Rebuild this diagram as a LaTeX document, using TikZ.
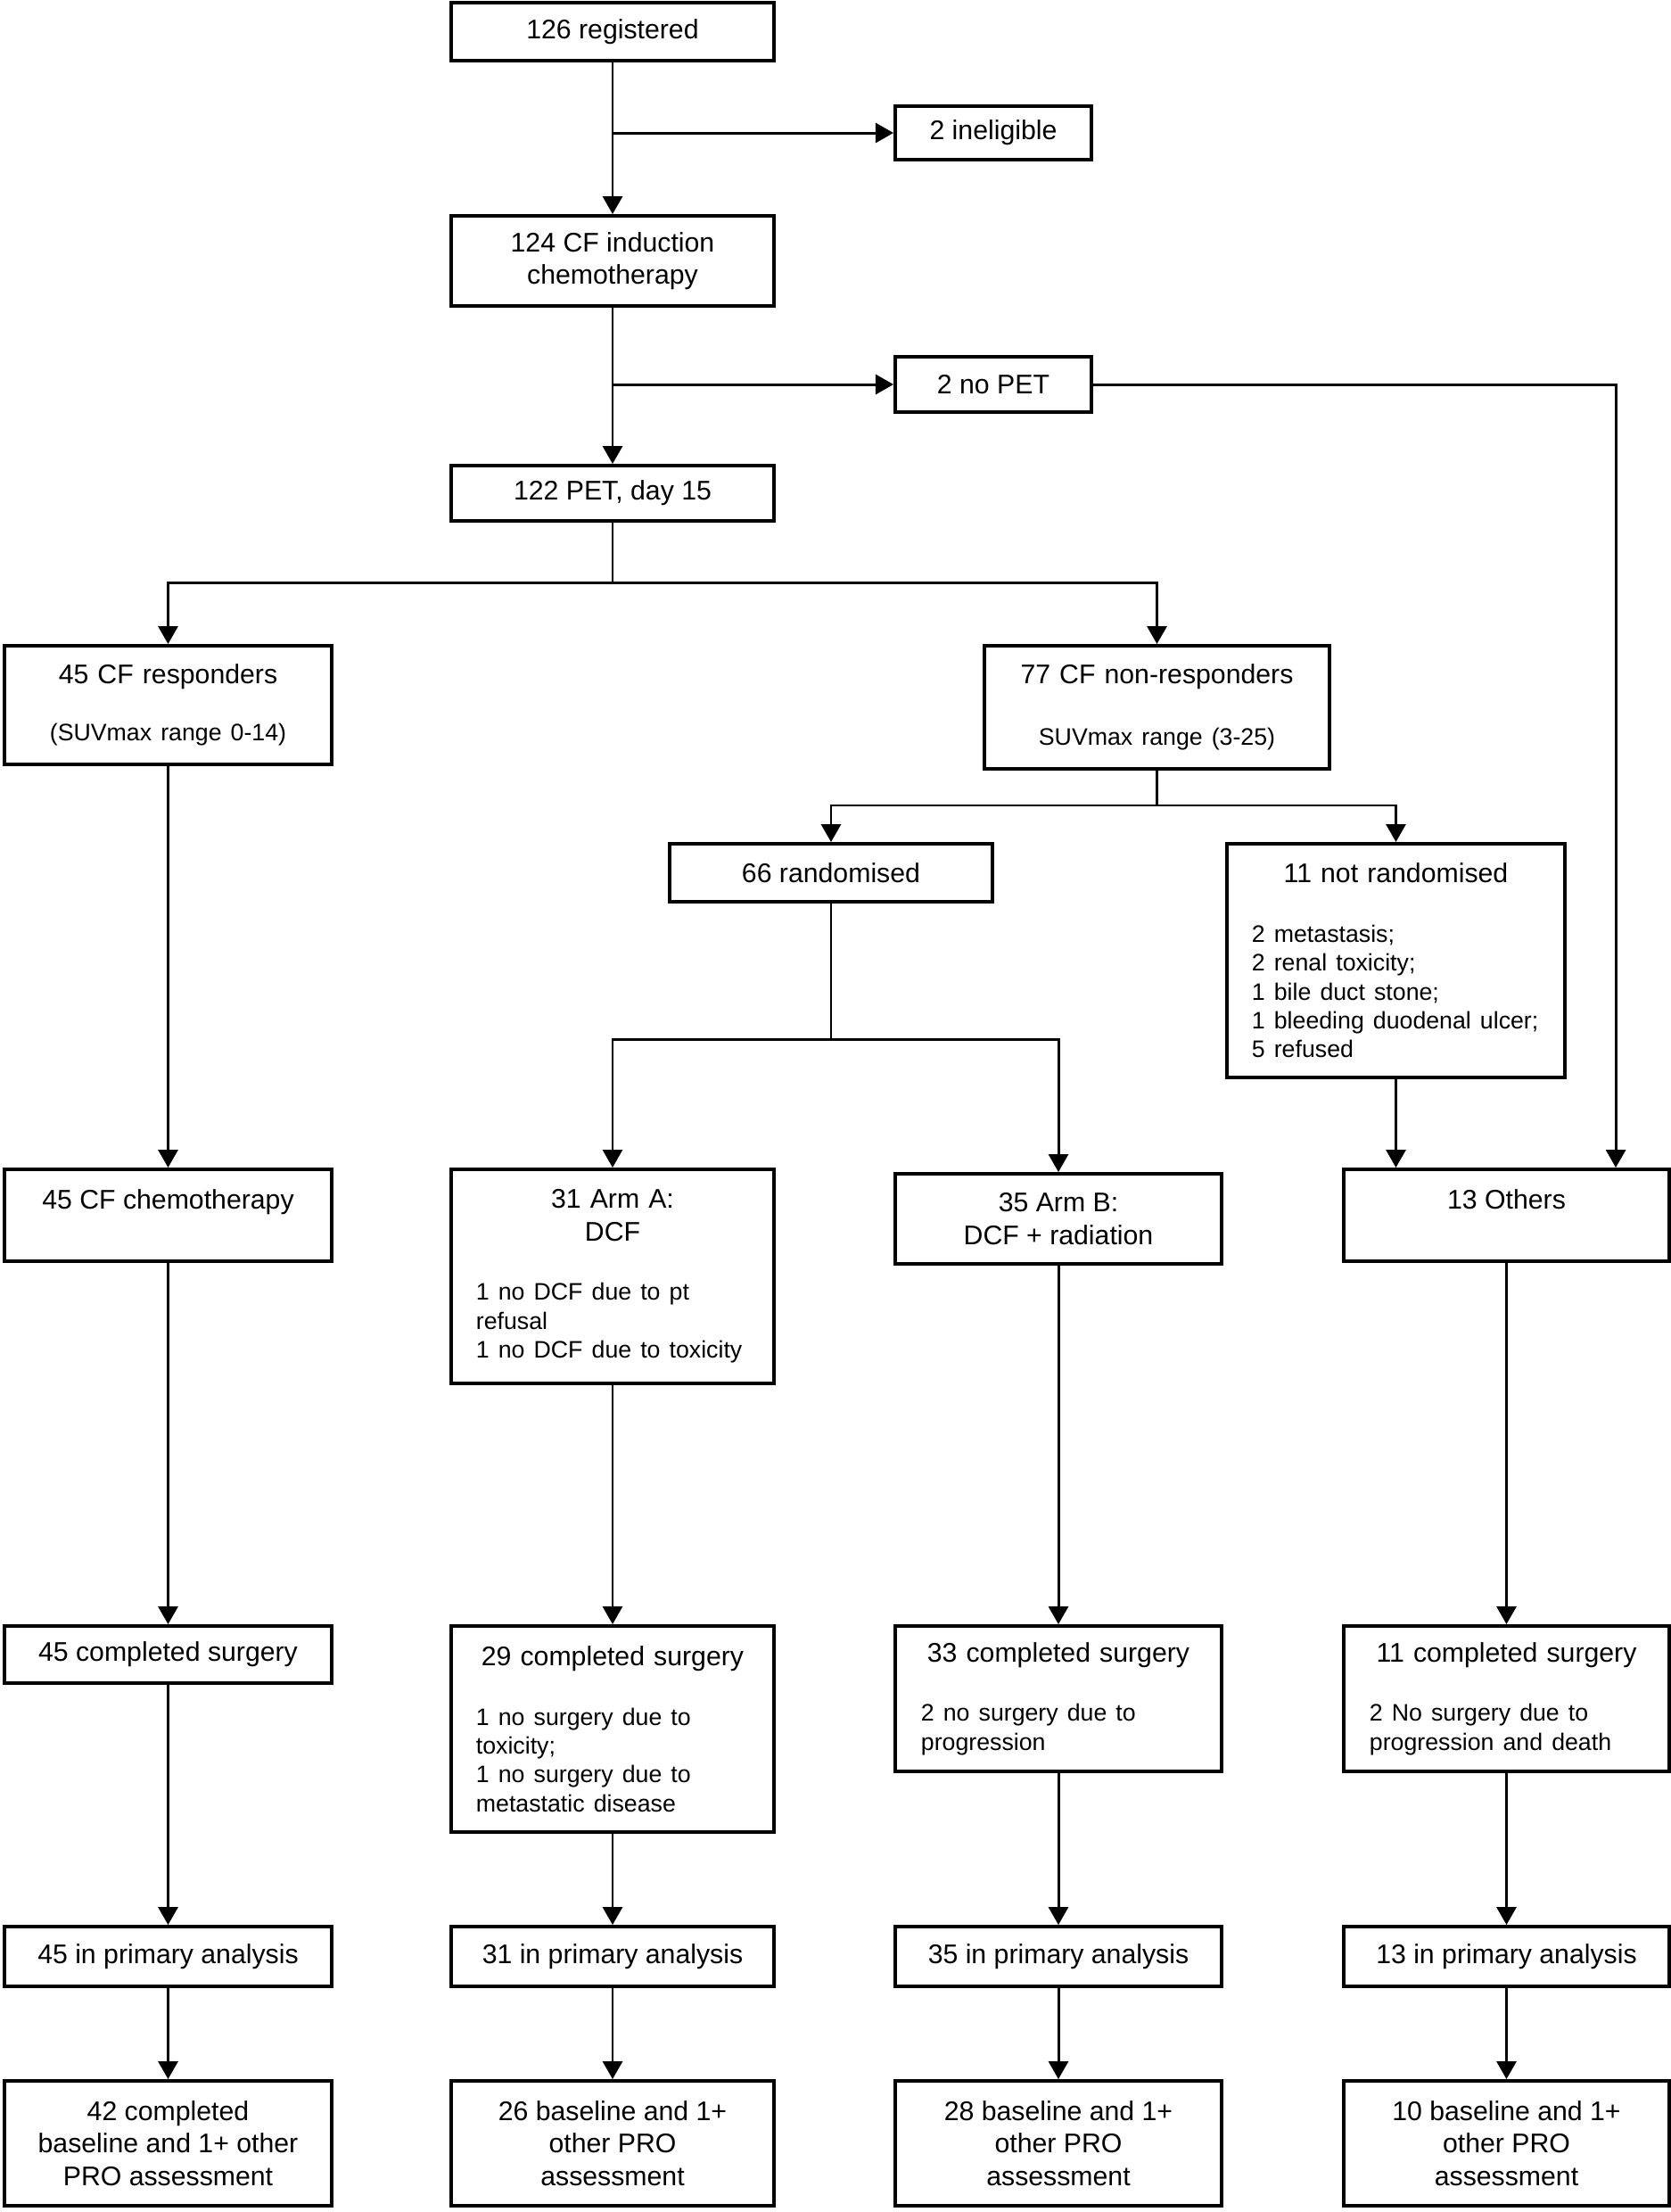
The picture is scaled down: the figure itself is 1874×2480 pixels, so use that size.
\documentclass[tikz,border=0pt]{standalone}
\usepackage{fontspec}
\setmainfont{Liberation Sans}
\usetikzlibrary{arrows.meta}
\setlength{\parindent}{0pt}
\newcommand{\notefont}{\fontsize{7.6}{9.2}\selectfont}

\begin{document}
\begin{tikzpicture}[x=0.01cm,y=-0.01cm,
    box/.style={draw,line width=1.1pt,inner sep=0pt,font=\fontsize{8.6}{10.4}\selectfont},
    arr/.style={-{Triangle[length=2mm,width=2.2mm]},line width=0.85pt}]
  \useasboundingbox (0,0) rectangle (1874,2480);
  % registration and induction
  \node[box,minimum width=3.62cm,minimum height=0.65cm] (reg) at (687,35.5) {126 registered};
  \node[box,minimum width=2.20cm,minimum height=0.60cm] (inel) at (1114,149) {2 ineligible};
  \node[box,align=center,minimum width=3.62cm,minimum height=1.01cm] (ind) at (687,292.5) {124 CF induction\\chemotherapy};
  \node[box,minimum width=2.20cm,minimum height=0.62cm] (nopet) at (1114,431) {2 no PET};
  \node[box,minimum width=3.62cm,minimum height=0.62cm] (pet) at (687,553) {122 PET, day 15};
  % PET response
  \node[box,minimum width=3.67cm,minimum height=1.33cm,text width=3.11cm] (resp) at (188.5,790.5)
    {\centering 45 CF responders\par\vspace{9.1pt}\notefont (SUVmax range 0-14)\par};
  \node[box,minimum width=3.87cm,minimum height=1.38cm,text width=3.31cm] (nonresp) at (1297.5,793)
    {\centering 77 CF non-responders\par\vspace{10.5pt}\notefont SUVmax range (3-25)\par};
  \node[box,minimum width=3.62cm,minimum height=0.65cm] (rand) at (932,978.5) {66 randomised};
  \node[box,minimum width=3.79cm,minimum height=2.62cm,text width=3.23cm] (notrand) at (1565.5,1077)
    {{\centering 11 not randomised\par}\vspace{9.8pt}\raggedright\notefont
     2 metastasis;\\2 renal toxicity;\\1 bile duct stone;\\1 bleeding duodenal ulcer;\\5 refused\par};
  % treatment groups
  \node[box,minimum width=3.67cm,minimum height=1.03cm,text height=0.44cm,text depth=0.59cm] (chemo) at (188.5,1362.5) {45 CF chemotherapy};
  \node[box,minimum width=3.62cm,minimum height=2.40cm,text width=3.06cm] (armA) at (687,1431)
    {{\centering 31 Arm A:\\DCF\par}\vspace{9.7pt}\raggedright\notefont
     1 no DCF due to pt\\refusal\\1 no DCF due to toxicity\par};
  \node[box,align=center,minimum width=3.66cm,minimum height=1.01cm] (armB) at (1187,1366.5) {35 Arm B:\\DCF + radiation};
  \node[box,minimum width=3.65cm,minimum height=1.03cm,text height=0.44cm,text depth=0.59cm] (others) at (1689.5,1362.5) {13 Others};
  % surgery
  \node[box,minimum width=3.67cm,minimum height=0.64cm] (s45) at (188.5,1855) {45 completed surgery};
  \node[box,minimum width=3.62cm,minimum height=2.31cm,text width=3.06cm] (s29) at (687,1938.5)
    {{\centering 29 completed surgery\par}\vspace{9.7pt}\raggedright\notefont
     1 no surgery due to\\toxicity;\\1 no surgery due to\\metastatic disease\par};
  \node[box,minimum width=3.66cm,minimum height=1.63cm,text width=3.08cm] (s33) at (1187,1904.5)
    {{\centering 33 completed surgery\par}\vspace{9.7pt}\raggedright\notefont
     2 no surgery due to\\progression\par};
  \node[box,minimum width=3.65cm,minimum height=1.63cm,text width=3.07cm] (s11) at (1689.5,1904.5)
    {{\centering 11 completed surgery\par}\vspace{9.7pt}\raggedright\notefont
     2 No surgery due to\\progression and death\par};
  % analysis
  \foreach \nm/\cx/\w/\txt in {p45/188.5/3.67/45 in primary analysis, p31/687/3.62/31 in primary analysis,
      p35/1187/3.66/35 in primary analysis, p13/1689.5/3.65/13 in primary analysis}
    \node[box,minimum width=\w cm,minimum height=0.67cm] (\nm) at (\cx,2193.5) {\txt};
  \foreach \nm/\cx/\w/\txt in {b42/188.5/3.67/{42 completed\\baseline and 1+ other\\PRO assessment},
      b26/687/3.62/{26 baseline and 1+\\other PRO\\assessment}, b28/1187/3.66/{28 baseline and 1+\\other PRO\\assessment},
      b10/1689.5/3.65/{10 baseline and 1+\\other PRO\\assessment}}
    \node[box,align=center,minimum width=\w cm,minimum height=1.40cm] (\nm) at (\cx,2403) {\txt};
  % connectors
  \coordinate (othersin) at ([xshift=1.225cm]others.north);
  \draw[arr] (reg.south) -- (ind.north);
  \draw[arr] (reg.south |- inel.west) -- (inel.west);
  \draw[arr] (ind.south) -- (pet.north);
  \draw[arr] (ind.south |- nopet.west) -- (nopet.west);
  \draw[arr] (nopet.east) -| (othersin);
  \draw[arr] (pet.south) -- ++(0,68) -| (resp.north);
  \draw[arr] (pet.south) ++(0,68) -| (nonresp.north);
  \draw[arr] (nonresp.south) -- ++(0,39) -| (rand.north);
  \draw[arr] (nonresp.south) ++(0,39) -| (notrand.north);
  \draw[arr] (rand.south) -- ++(0,153) -| (armA.north);
  \draw[arr] (rand.south) ++(0,153) -| (armB.north);
  \draw[arr] (notrand.south) -- (notrand.south |- others.north);
  \draw[arr] (resp.south) -- (chemo.north);
  \foreach \a/\b in {chemo/s45, armA/s29, armB/s33, others/s11, s45/p45, s29/p31, s33/p35, s11/p13,
      p45/b42, p31/b26, p35/b28, p13/b10}
    \draw[arr] (\a.south) -- (\b.north);
\end{tikzpicture}
\end{document}
